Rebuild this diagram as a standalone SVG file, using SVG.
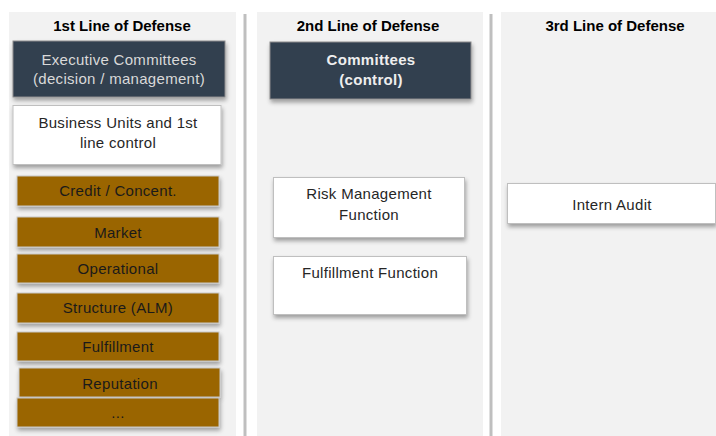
<svg xmlns="http://www.w3.org/2000/svg" width="716" height="436" viewBox="0 0 716 436">
<defs>
<filter id="sh" x="-10%" y="-20%" width="120%" height="160%">
<feDropShadow dx="1" dy="3" stdDeviation="2" flood-color="#000" flood-opacity="0.35"/>
</filter>
<style>
.col{fill:#f2f2f2}
.sep{fill:#bfbfbf}
.hdr{font-family:"Liberation Sans",Arial,sans-serif;font-weight:bold;font-size:15px;fill:#000;text-anchor:middle}
.dark{fill:#333f50;stroke:#8c8c8c;stroke-width:1;filter:url(#sh)}
.white{fill:#fff;stroke:#bfbfbf;stroke-width:1;filter:url(#sh)}
.brown{fill:#9a6500;stroke:#c8c8c8;stroke-width:1;filter:url(#sh)}
.t{font-family:"Liberation Sans",Arial,sans-serif;font-size:15px;letter-spacing:0.3px;text-anchor:middle;fill:#262626}
.tl{fill:#d9d9d9}
.tb{fill:#eeeeee;font-weight:bold}
.tbr{fill:#1a1a1a}
</style>
</defs>
<rect width="716" height="436" fill="#fff"/>
<g id="columns">
<rect class="col" x="9" y="12" width="227" height="424"/>
<rect class="col" x="257" y="12" width="226" height="424"/>
<rect class="col" x="501" y="12" width="215" height="424"/>
<rect class="sep" x="243.5" y="14" width="3" height="422"/>
<rect class="sep" x="489.5" y="14" width="3" height="422"/>
<text class="hdr" x="122" y="31">1st Line of Defense</text>
<text class="hdr" x="368" y="31">2nd Line of Defense</text>
<text class="hdr" x="615" y="31">3rd Line of Defense</text>
</g>
<g id="connectors"></g>
<g id="exec">
<rect class="dark" x="13" y="41" width="212" height="56"/>
<text class="t tl" x="119" y="65">Executive Committees</text>
<text class="t tl" x="119" y="84">(decision / management)</text>
</g>
<g id="business">
<rect class="white" x="13" y="105.5" width="208" height="59"/>
<text class="t" x="118" y="128">Business Units and 1st</text>
<text class="t" x="118" y="148">line control</text>
</g>
<g id="credit">
<rect class="brown" x="17" y="176" width="202" height="30"/>
<text class="t tbr" x="118" y="196">Credit / Concent.</text>
</g>
<g id="market">
<rect class="brown" x="17" y="217" width="202" height="30"/>
<text class="t tbr" x="118" y="238">Market</text>
</g>
<g id="operational">
<rect class="brown" x="17" y="254" width="202" height="29"/>
<text class="t tbr" x="118" y="274">Operational</text>
</g>
<g id="structure">
<rect class="brown" x="17" y="293" width="202" height="30"/>
<text class="t tbr" x="118" y="313">Structure (ALM)</text>
</g>
<g id="fulfillment">
<rect class="brown" x="17" y="332" width="202" height="29"/>
<text class="t tbr" x="118" y="352">Fulfillment</text>
</g>
<g id="reputation">
<rect class="brown" x="19" y="368" width="201" height="29"/>
<text class="t tbr" x="120" y="389">Reputation</text>
</g>
<g id="more">
<rect class="brown" x="17" y="398" width="202" height="29"/>
<text class="t tbr" x="118" y="418">...</text>
</g>
<g id="committees">
<rect class="dark" x="270" y="42" width="201" height="57"/>
<text class="t tb" x="371" y="65">Committees</text>
<text class="t tb" x="371" y="85">(control)</text>
</g>
<g id="riskmgmt">
<rect class="white" x="273.5" y="177.5" width="191" height="60"/>
<text class="t" x="369" y="199">Risk Management</text>
<text class="t" x="369" y="220">Function</text>
</g>
<g id="fulfillfunc">
<rect class="white" x="273.5" y="256.5" width="193" height="58"/>
<text class="t" x="370" y="278">Fulfillment Function</text>
</g>
<g id="audit">
<rect class="white" x="507.5" y="183.5" width="208" height="40"/>
<text class="t" x="612" y="210">Intern Audit</text>
</g>
</svg>
